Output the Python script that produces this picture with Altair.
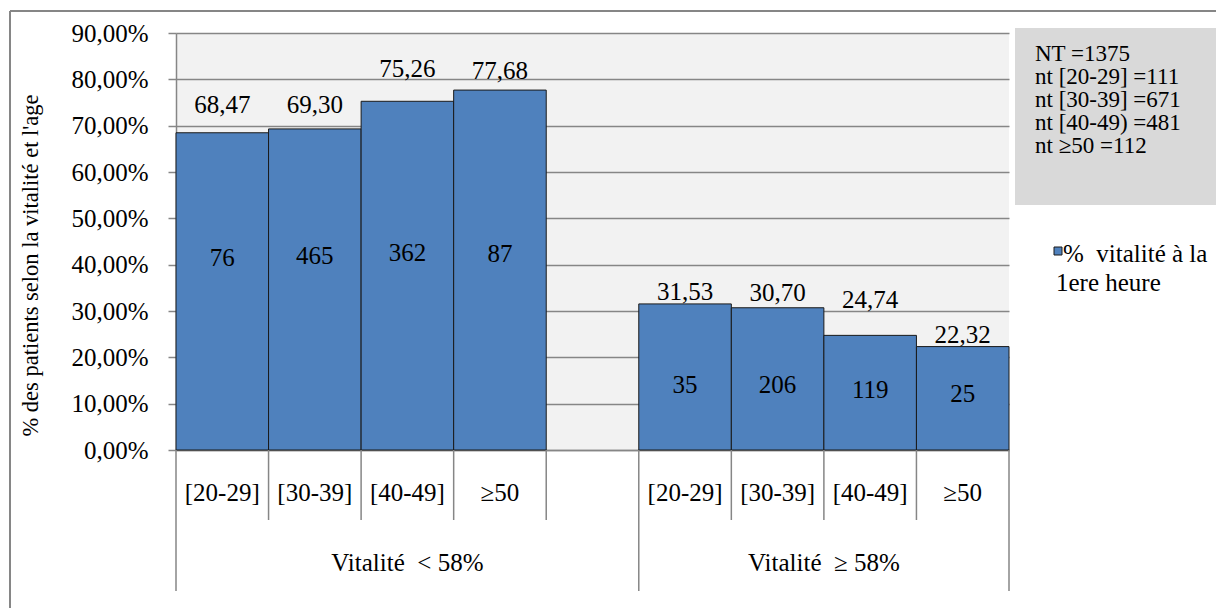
import altair as alt
import pandas as pd

FONT = "Liberation Serif"
GRAY = "#868686"
BLUE = "#4f81bd"
NB = "\u00a0"

# ---- data ----
slot_labels = ["[20-29]", "[30-39]", "[40-49]", "≥50", "", "[20-29]", "[30-39]", "[40-49]", "≥50"]
bar_slots = [0, 1, 2, 3, 5, 6, 7, 8]
pct = [68.47, 69.30, 75.26, 77.68, 31.53, 30.70, 24.74, 22.32]
counts = [76, 465, 362, 87, 35, 206, 119, 25]
pct_label_y = [74.5, 74.5, 82.2, 81.7, 34.1, 33.9, 32.4, 24.9]
count_label_y = [41.5, 41.8, 42.6, 42.2, 14.1, 14.0, 12.9, 12.0]
group_labels = ["Vitalité" + NB + " < 58%", "Vitalité" + NB + " ≥ 58%"]
group_slots = [2, 7]
nt_lines = ["NT =1375", "nt [20-29] =111", "nt [30-39] =671", "nt [40-49) =481", "nt ≥50 =112"]
series_name = "%" + NB + " vitalité à la 1ere heure"
legend_lines = ["%" + NB + " vitalité à la", "1ere heure"]
y_title = "% des patients selon la vitalité et l'age"
short_sep_slots = [1, 2, 3, 4, 6, 7, 8]
long_sep_slots = [0, 5]

W, H = 833, 417

bars_df = pd.DataFrame({
    "slot": bar_slots,
    "pct": pct,
    "pct_txt": [f"{v:.2f}".replace(".", ",") for v in pct],
    "count": [str(c) for c in counts],
    "pct_y": pct_label_y,
    "count_y": count_label_y,
    "series": series_name,
})

x_scale = alt.Scale(domain=list(range(9)), paddingInner=0, paddingOuter=0)
y_scale = alt.Scale(domain=[0, 90], nice=False)
color_scale = alt.Scale(domain=[series_name], range=[BLUE])
label_expr = "[" + ",".join(f"'{s}'" for s in slot_labels) + "][datum.value]"

x_axis = alt.Axis(
    title=None, labelExpr=label_expr, labelAngle=0, ticks=False,
    labelPadding=42, labelBaseline="middle", labelFont=FONT, labelFontSize=25,
    labelColor="black", domainColor=GRAY, domainWidth=1.5, grid=False)
y_axis = alt.Axis(
    title=y_title, values=list(range(0, 91, 10)),
    labelExpr="replace(format(datum.value, '.2f'), '.', ',') + '%'",
    labelFont=FONT, labelFontSize=25, labelColor="black", labelPadding=20,
    tickSize=8, tickColor=GRAY, tickWidth=1.5,
    domainColor=GRAY, domainWidth=1.5,
    grid=True, gridColor=GRAY, gridWidth=1.5,
    titleFont=FONT, titleFontSize=22.5, titleFontWeight="normal", titleColor="black",
    titlePadding=28, titleY=232)


def X(**kw):
    return alt.X("slot:O", scale=x_scale, axis=x_axis, **kw)


bars = alt.Chart(bars_df).mark_bar(stroke="#1a1a1a", strokeWidth=1).encode(
    x=X(),
    y=alt.Y("pct:Q", scale=y_scale, axis=y_axis),
    color=alt.Color("series:N", scale=color_scale, legend=None),
)

pct_text = alt.Chart(bars_df).mark_text(font=FONT, fontSize=25, color="black", baseline="middle").encode(
    x=X(),
    y=alt.Y("pct_y:Q", scale=y_scale, axis=y_axis),
    text="pct_txt:N",
)

count_text = alt.Chart(bars_df).mark_text(font=FONT, fontSize=25, color="black", baseline="middle").encode(
    x=X(),
    y=alt.Y("count_y:Q", scale=y_scale, axis=y_axis),
    text="count:N",
)

short_df = pd.DataFrame({"slot": short_sep_slots})
short_rules = alt.Chart(short_df).mark_rule(color=GRAY, strokeWidth=1.5).encode(
    x=X(bandPosition=0),
    y=alt.value(H), y2=alt.value(H + 70),
)

long_df = pd.DataFrame({"slot": long_sep_slots})
long_rules = alt.Chart(long_df).mark_rule(color=GRAY, strokeWidth=1.5).encode(
    x=X(bandPosition=0),
    y=alt.value(H), y2=alt.value(H + 141),
)
end_rule = alt.Chart(pd.DataFrame({"slot": [8]})).mark_rule(color=GRAY, strokeWidth=1.5).encode(
    x=X(bandPosition=1),
    y=alt.value(H), y2=alt.value(H + 141),
)

g1 = alt.Chart(pd.DataFrame({"slot": [group_slots[0]], "t": [group_labels[0]]})).mark_text(
    font=FONT, fontSize=25, color="black", baseline="middle").encode(
    x=X(bandPosition=0.5), y=alt.value(H + 113), text="t:N")
g2 = alt.Chart(pd.DataFrame({"slot": [group_slots[1]], "t": [group_labels[1]]})).mark_text(
    font=FONT, fontSize=25, color="black", baseline="middle").encode(
    x=X(bandPosition=0), y=alt.value(H + 113), text="t:N")

one = pd.DataFrame({"a": [0]})
box = alt.Chart(one).mark_rect(color="#d9d9d9").encode(
    x=alt.value(839), x2=alt.value(1060), y=alt.value(-5), y2=alt.value(172))
box_text = alt.Chart(one).mark_text(
    text=nt_lines, font=FONT, fontSize=23, color="black", align="left",
    baseline="middle", lineHeight=22.9).encode(x=alt.value(859), y=alt.value(21))

# series legend (key square + two-line label)
leg_df = pd.DataFrame({"series": [series_name]})
leg_square = alt.Chart(leg_df).mark_square(size=64, stroke="#1a1a1a", strokeWidth=1, opacity=1).encode(
    x=alt.value(882), y=alt.value(218),
    color=alt.Color("series:N", scale=color_scale, legend=None))
leg_line1 = alt.Chart(one).mark_text(
    text=legend_lines[0], font=FONT, fontSize=25, color="black", align="left",
    baseline="middle").encode(x=alt.value(887), y=alt.value(221))
leg_line2 = alt.Chart(one).mark_text(
    text=legend_lines[1], font=FONT, fontSize=25, color="black", align="left",
    baseline="middle").encode(x=alt.value(880), y=alt.value(250))

border_top = alt.Chart(one).mark_rule(color=GRAY, strokeWidth=2).encode(
    x=alt.value(-166), x2=alt.value(1060), y=alt.value(-22))
border_left = alt.Chart(one).mark_rule(color=GRAY, strokeWidth=2).encode(
    x=alt.value(-166), y=alt.value(-22), y2=alt.value(600))

chart = alt.layer(
    bars, pct_text, count_text, short_rules, long_rules, end_rule, g1, g2,
    box, box_text, leg_square, leg_line1, leg_line2, border_top, border_left,
).properties(
    width=W, height=H, autosize="none",
    padding={"left": 176, "top": 33, "right": 207, "bottom": 158},
    background="white",
).configure(font=FONT).configure_view(fill="#f2f2f2", strokeWidth=0)

chart.save("out.html", embed_options={"renderer": "svg", "actions": False})
